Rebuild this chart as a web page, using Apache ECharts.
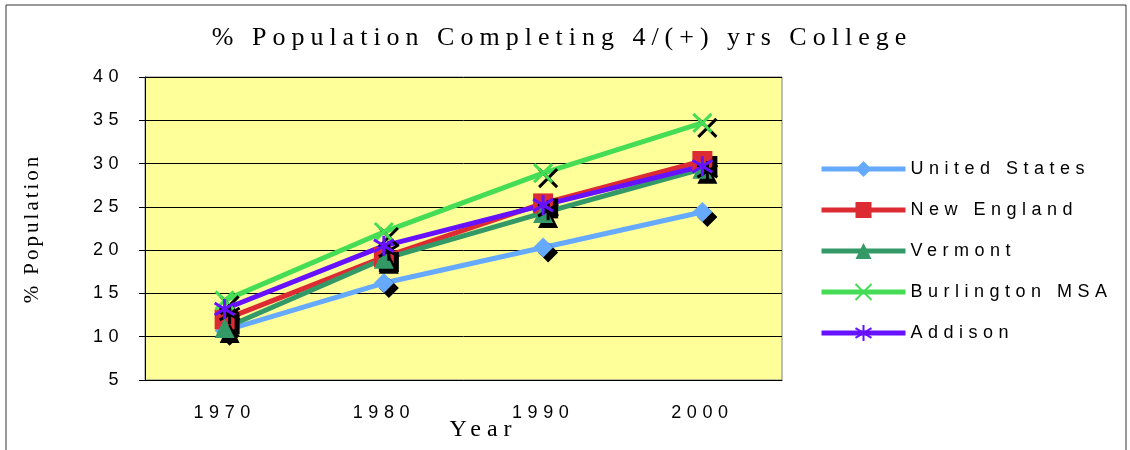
<!DOCTYPE html>
<html><head><meta charset="utf-8">
<script src="https://cdn.jsdelivr.net/npm/echarts@6/dist/echarts.min.js"></script>
<style>html,body{margin:0;padding:0;background:#fff}#c{width:1130px;height:450px}</style>
</head><body><div id="c"></div>
<script>
const years = ['1970','1980','1990','2000'];
const unitedStates = [10.7, 16.2, 20.3, 24.4];
const newEngland = [12.0, 19.2, 25.4, 30.3];
const vermont = [11.0, 19.0, 24.3, 29.4];
const burlington = [14.2, 22.1, 28.9, 34.7];
const addison = [13.2, 20.5, 25.2, 29.7];
const seriesNames = ['United States','New England','Vermont','Burlington MSA','Addison'];

// letter-spaced text like the reference
(function(){
  const P = CanvasRenderingContext2D.prototype;
  const orig = P.fillText;
  P.fillText = function(t, x, y, m){
    if (this.canvas && this.canvas.closest && this.canvas.closest('#c')) {
      const tr = this.getTransform();
      const rotated = Math.abs(tr.b) > 0.01;
      let sp = '5.5px';
      if (/Serif/.test(this.font)) sp = rotated ? '3px' : '6px';
      try { this.letterSpacing = sp; } catch(e) {}
    }
    return m === undefined ? orig.call(this, t, x, y) : orig.call(this, t, x, y, m);
  };
})();

const chart = echarts.init(document.getElementById('c'));
const shadow = {shadowColor:'#000', shadowBlur:0, shadowOffsetX:5, shadowOffsetY:5};
function mk(name, data, color, symbol, size, stroke){
  const it = Object.assign({color: color}, shadow);
  if (stroke) { it.borderColor = color; it.borderWidth = 3; }
  return {
    name, type:'line', data, symbol, symbolSize:size,
    lineStyle:{color, width:5}, itemStyle: it, z: 2
  };
}
chart.setOption({
  animation:false,
  title:{text:'% Population Completing 4/(+) yrs College', left:557, textAlign:'center', top:20,
    textStyle:{fontFamily:'Liberation Serif', fontSize:26, fontWeight:'normal', color:'#000'}},
  legend:{orient:'vertical', left:814, top:155, itemGap:23, itemWidth:84, itemHeight:20,
    lineStyle:{width:5},
    textStyle:{fontFamily:'Liberation Sans', fontSize:18, color:'#000'},
    data: seriesNames},
  grid:{left:145, right:348, top:77, bottom:70, outerBoundsMode:'none', containLabel:false,
    show:true, backgroundColor:'#FFFF99', borderColor:'#808080', borderWidth:1},
  xAxis:{type:'category', data:years, boundaryGap:true,
    name:'Year', nameLocation:'middle', nameGap:38, nameMoveOverlap:false,
    nameTextStyle:{fontFamily:'Liberation Serif', fontSize:24, color:'#000', padding:[0,0,0,40]},
    axisLine:{lineStyle:{color:'#000'}}, axisTick:{lineStyle:{color:'#000'}, length:6},
    axisLabel:{fontFamily:'Liberation Sans', fontSize:18, color:'#000', margin:24}},
  yAxis:{type:'value', min:5, max:40, interval:5,
    name:'% Population', nameLocation:'middle', nameGap:102,
    nameTextStyle:{fontFamily:'Liberation Serif', fontSize:21, color:'#000'},
    axisLine:{show:true, lineStyle:{color:'#000'}}, axisTick:{show:true, lineStyle:{color:'#000'}, length:6},
    splitLine:{lineStyle:{color:'#000', width:1}},
    axisLabel:{fontFamily:'Liberation Sans', fontSize:18, color:'#000', margin:21}},
  graphic:[{type:'rect', shape:{x:6, y:5, width:1120, height:460}, style:{fill:'none', stroke:'#333', lineWidth:1}, silent:true}],
  series:[
    mk(seriesNames[0], unitedStates, '#66AAFF', 'diamond', 20),
    mk(seriesNames[1], newEngland, '#DD2B33', 'rect', 20),
    mk(seriesNames[2], vermont, '#339966', 'triangle', 20),
    mk(seriesNames[3], burlington, '#44DD55', 'path://M0,0L10,10M10,0L0,10', 18, true),
    mk(seriesNames[4], addison, '#6611FF', 'path://M5,0L5,10M0,2L10,8M0,8L10,2', 20, true)
  ]
});
</script></body></html>
